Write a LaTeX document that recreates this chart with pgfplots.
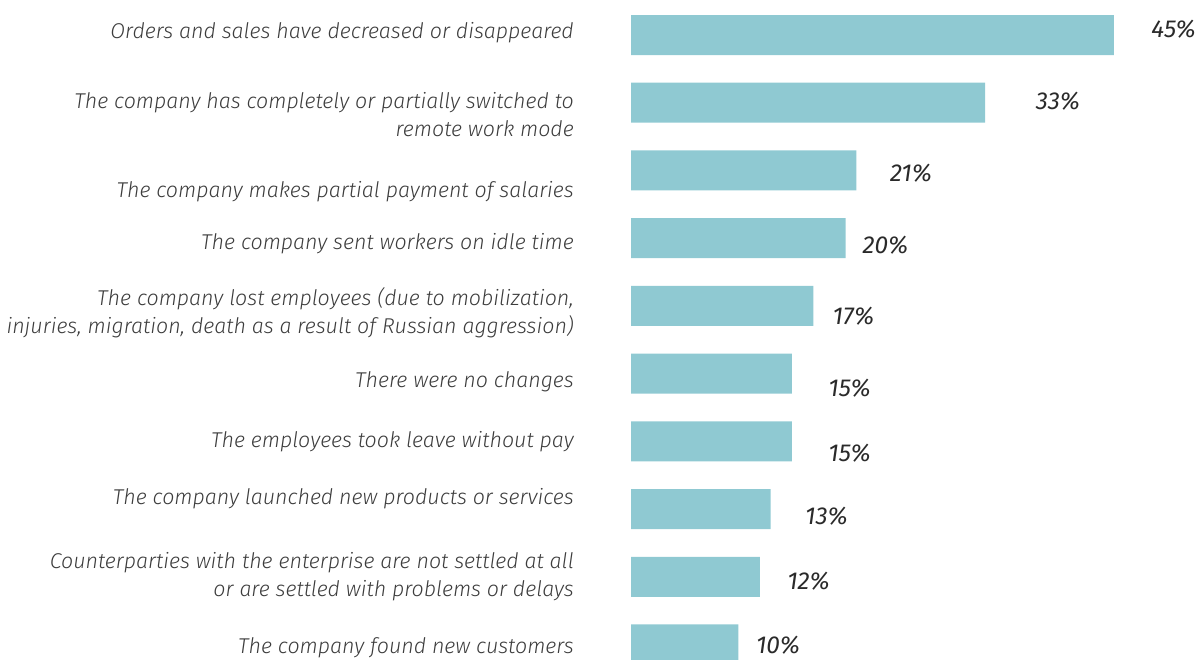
\documentclass[border=0pt]{standalone}
\usepackage{fontspec}
\setmainfont{Fira Sans}[UprightFont={* Light}, ItalicFont={* Light Italic}]
\newfontfamily\valfont{Fira Sans}
\usepackage{pgfplots}
\pgfplotsset{compat=1.18}
\definecolor{barteal}{HTML}{8FC9D2}
\definecolor{labelgray}{HTML}{3C3C3C}
\definecolor{valgray}{HTML}{2A2A2A}

\begin{document}
\begin{tikzpicture}
\useasboundingbox (0,0) rectangle (1198bp,660bp);
\clip (0,0) rectangle (1198bp,660bp);
\begin{axis}[
    at={(631bp,-18.36bp)}, anchor=south west,
    scale only axis,
    width=558.1bp, height=677.2bp,
    xmin=0, xmax=52, ymin=-0.5, ymax=9.5,
    clip=false,
    axis line style={draw=none},
    major tick length=0pt,
    xtick=\empty,
    ytick={-0.007,1.041,2.193,3.035,3.921,4.939,5.958,6.726,7.863,9.074},
    yticklabels={
        {The company found new customers},
        {Counterparties with the enterprise are not settled at all\\or are settled with problems or delays},
        {The company launched new products or services},
        {The employees took leave without pay},
        {There were no changes},
        {The company lost employees (due to mobilization,\\injuries, migration, death as a result of Russian aggression)},
        {The company sent workers on idle time},
        {The company makes partial payment of salaries},
        {The company has completely or partially switched to\\remote work mode},
        {Orders and sales have decreased or disappeared}},
    yticklabel style={anchor=east, align=right, inner sep=0pt, xshift=-57bp, yshift=-3bp,
        font=\fontsize{21.4bp}{28bp}\selectfont\itshape, text=labelgray},
]
\addplot[xbar, bar width=40bp, bar shift=0pt, fill=barteal, draw=none] coordinates {
    (10,0) (12,1) (13,2) (15,3) (15,4) (17,5) (20,6) (21,7) (33,8) (45,9)
};
\addplot[draw=none, mark=none, nodes near coords, point meta=explicit symbolic,
    nodes near coords style={anchor=center, inner sep=0pt,
        font=\valfont\fontsize{24.5bp}{28bp}\selectfont\itshape, text=valgray}]
    table[meta=label] {
x y label
13.70 -0.007 10\%
16.54 0.938 12\%
18.21 1.890 13\%
20.36 2.820 15\%
20.36 3.780 15\%
20.73 4.843 17\%
23.71 5.899 20\%
26.09 6.955 21\%
39.78 8.018 33\%
50.55 9.089 45\%
};
\end{axis}
\end{tikzpicture}
\end{document}
